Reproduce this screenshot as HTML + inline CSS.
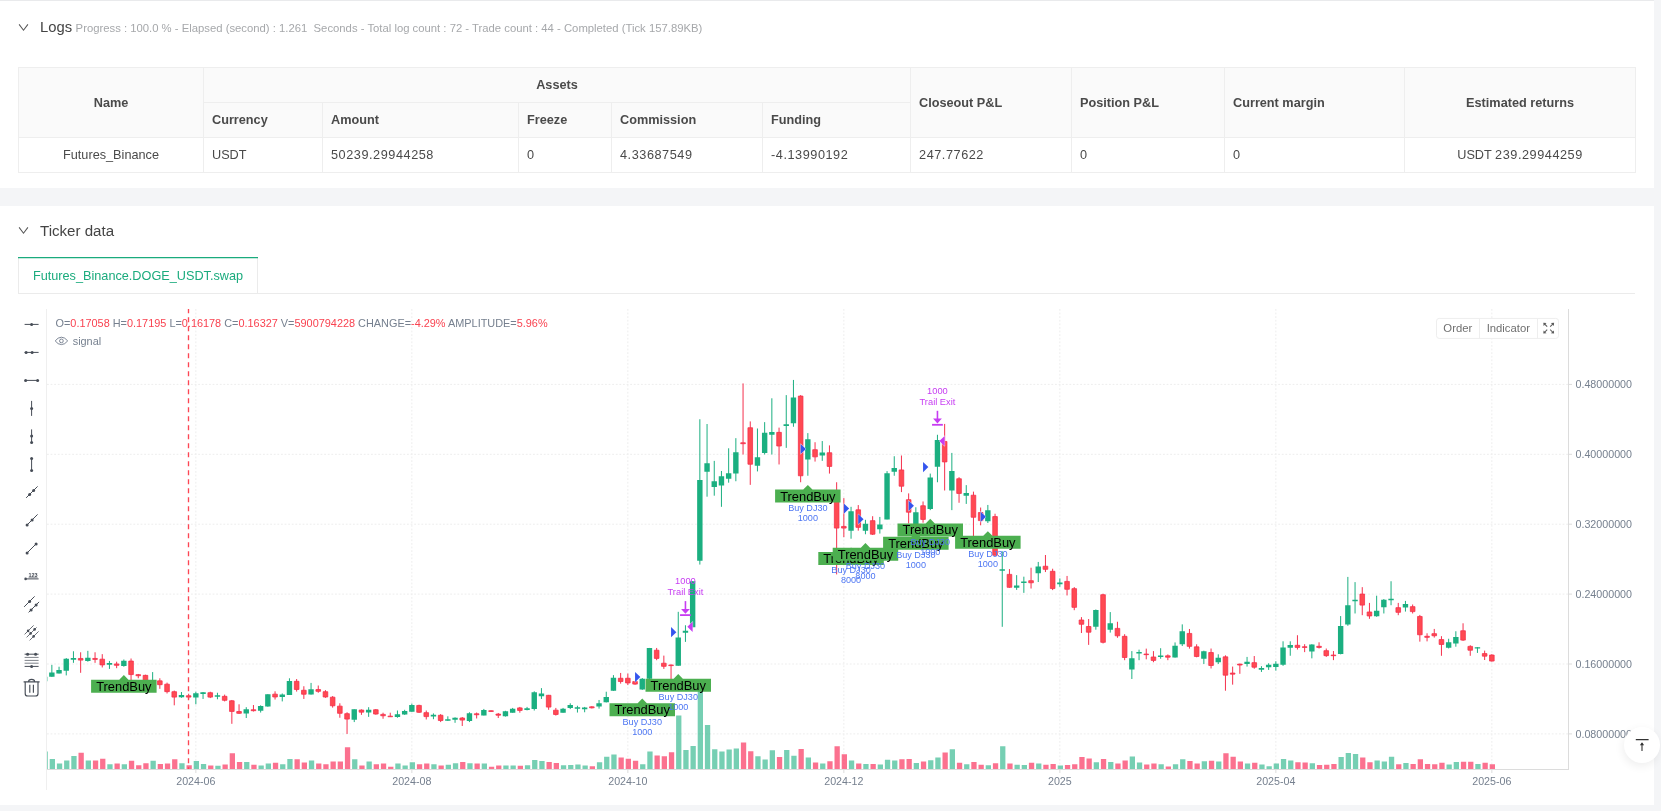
<!DOCTYPE html>
<html><head><meta charset="utf-8"><title>Backtest</title><style>
*{box-sizing:border-box;margin:0;padding:0}
html,body{width:1661px;height:811px;overflow:hidden;background:#f4f5f7;font-family:"Liberation Sans",sans-serif;color:#444}
.card{position:absolute;left:0;width:1654px;background:#fff}
#c1{top:0;height:188px;border-top:1px solid #e9eaec}
#c2{top:206px;height:599px}
.hd{position:absolute;left:40px;font-size:14.8px;color:#444;white-space:nowrap;line-height:20px}
.hd small{font-size:11.3px;color:#a6a8ab;margin-left:3.5px}
.chev{position:absolute;left:18px;width:11px;height:8px}
table{position:absolute;left:18px;top:66px;width:1617px;border-collapse:collapse;font-size:12.7px;color:#4a4a4a;table-layout:fixed}
td,th{border:1px solid #eeeeee;height:35px;padding:0.5px 8px 0 8px;text-align:left;white-space:nowrap;overflow:hidden}
th{background:#fafafa;font-weight:bold;color:#4a4a4a}
.c{text-align:center}
.n{letter-spacing:0.55px}
.tab{position:absolute;left:18px;top:257px;width:240px;height:36px;border-left:1px solid #ebebeb;border-right:1px solid #ebebeb;color:#1aab7d;font-size:12.7px;line-height:39px;text-align:center;background:#fff}
.tabline{position:absolute;left:18px;top:293px;width:1617px;height:1px;background:#ebebeb}
svg text{font-family:"Liberation Sans",sans-serif}
.totop{position:absolute;left:1624px;top:727px;width:36px;height:36px;border-radius:18px;background:#fff;box-shadow:-1px 3px 10px rgba(0,0,0,.07)}
</style></head><body><div id="root" style="position:absolute;left:0;top:0;width:1661px;height:811px;will-change:transform;">
<div class="card" id="c1">
<svg class="chev" style="top:23px" viewBox="0 0 11 8"><path d="M1.1 0.4L5.5 6.2L9.9 0.4" fill="none" stroke="#555" stroke-width="1.05"/></svg>
<div class="hd" style="top:16px">Logs<small>Progress : 100.0 % - Elapsed (second) : 1.261&nbsp; Seconds - Total log count : 72 - Trade count : 44 - Completed (Tick 157.89KB)</small></div>
<table>
<colgroup><col style="width:185px"><col style="width:119px"><col style="width:196px"><col style="width:93px"><col style="width:151px"><col style="width:148px"><col style="width:161px"><col style="width:153px"><col style="width:180px"><col style="width:231px"></colgroup>
<tr><th rowspan="2" class="c">Name</th><th colspan="5" class="c">Assets</th><th rowspan="2">Closeout P&amp;L</th><th rowspan="2">Position P&amp;L</th><th rowspan="2">Current margin</th><th rowspan="2" class="c">Estimated returns</th></tr>
<tr><th>Currency</th><th>Amount</th><th>Freeze</th><th>Commission</th><th>Funding</th></tr>
<tr><td class="c">Futures_Binance</td><td>USDT</td><td class="n">50239.29944258</td><td>0</td><td class="n">4.33687549</td><td class="n">-4.13990192</td><td class="n">247.77622</td><td>0</td><td>0</td><td class="c">USDT <span class="n">239.29944259</span></td></tr>
</table>
</div>
<div class="card" id="c2"></div>
<svg class="chev" style="top:227px" viewBox="0 0 11 8"><path d="M1.1 0.4L5.5 6.2L9.9 0.4" fill="none" stroke="#555" stroke-width="1.05"/></svg>
<div class="hd" style="top:221px;font-size:15.1px">Ticker data</div>
<div class="tabline"></div>
<div class="tab">Futures_Binance.DOGE_USDT.swap</div>
<svg style="position:absolute;left:0;top:0" width="1661" height="811" viewBox="0 0 1661 811">
<path d="M47 384.4H1568 M47 454.3H1568 M47 524.2H1568 M47 594.1H1568 M47 664H1568 M47 733.9H1568 M195.85 309V769.5 M411.85 309V769.5 M627.85 309V769.5 M843.85 309V769.5 M1059.85 309V769.5 M1275.85 309V769.5 M1491.85 309V769.5" stroke="#ededed" stroke-width="1" stroke-dasharray="1.8 1.8" fill="none"/>
<defs><clipPath id="cp"><rect x="47" y="309" width="1521" height="461"/></clipPath></defs>
<g clip-path="url(#cp)">
<path d="M42.5 769.5v-18h5.3v18zM49.7 769.5v-10.4h5.3v10.4zM56.9 769.5v-6.1h5.3v6.1zM64.1 769.5v-9.1h5.3v9.1zM71.3 769.5v-13.4h5.3v13.4zM85.7 769.5v-8.9h5.3v8.9zM107.3 769.5v-5.2h5.3v5.2zM121.7 769.5v-5.2h5.3v5.2zM150.5 769.5v-8.7h5.3v8.7zM179.3 769.5v-6.3h5.3v6.3zM193.7 769.5v-8.5h5.3v8.5zM200.9 769.5v-5.4h5.3v5.4zM215.3 769.5v-3.7h5.3v3.7zM244.1 769.5v-7.6h5.3v7.6zM258.5 769.5v-3.9h5.3v3.9zM265.7 769.5v-5.9h5.3v5.9zM280.1 769.5v-5.2h5.3v5.2zM287.3 769.5v-10.4h5.3v10.4zM308.9 769.5v-8.9h5.3v8.9zM352.1 769.5v-10.2h5.3v10.2zM366.5 769.5v-8h5.3v8zM395.3 769.5v-6.1h5.3v6.1zM402.5 769.5v-4.1h5.3v4.1zM409.7 769.5v-7.2h5.3v7.2zM431.3 769.5v-5.2h5.3v5.2zM445.7 769.5v-4.8h5.3v4.8zM452.9 769.5v-6.3h5.3v6.3zM467.3 769.5v-6.3h5.3v6.3zM481.7 769.5v-6.1h5.3v6.1zM503.3 769.5v-4.1h5.3v4.1zM510.5 769.5v-4.1h5.3v4.1zM524.9 769.5v-4.3h5.3v4.3zM532.1 769.5v-9.5h5.3v9.5zM539.3 769.5v-8.5h5.3v8.5zM560.9 769.5v-4.3h5.3v4.3zM568.1 769.5v-4.6h5.3v4.6zM575.3 769.5v-5h5.3v5zM582.5 769.5v-4.1h5.3v4.1zM596.9 769.5v-7.2h5.3v7.2zM604.1 769.5v-12.8h5.3v12.8zM611.3 769.5v-15h5.3v15zM640.1 769.5v-5.2h5.3v5.2zM647.3 769.5v-18h5.3v18zM676.1 769.5v-53.9h5.3v53.9zM683.3 769.5v-19.5h5.3v19.5zM690.5 769.5v-23.4h5.3v23.4zM697.7 769.5v-80h5.3v80zM704.9 769.5v-44.4h5.3v44.4zM712.1 769.5v-20.2h5.3v20.2zM719.3 769.5v-18h5.3v18zM726.5 769.5v-19.9h5.3v19.9zM733.7 769.5v-21h5.3v21zM755.3 769.5v-13.2h5.3v13.2zM762.5 769.5v-10h5.3v10zM769.7 769.5v-19.3h5.3v19.3zM784.1 769.5v-19.5h5.3v19.5zM791.3 769.5v-13.7h5.3v13.7zM805.7 769.5v-12.1h5.3v12.1zM820.1 769.5v-6.1h5.3v6.1zM848.9 769.5v-9.1h5.3v9.1zM863.3 769.5v-5.4h5.3v5.4zM877.7 769.5v-5h5.3v5zM884.9 769.5v-9.8h5.3v9.8zM892.1 769.5v-9.1h5.3v9.1zM913.7 769.5v-6.5h5.3v6.5zM928.1 769.5v-9.3h5.3v9.3zM935.3 769.5v-12.1h5.3v12.1zM949.7 769.5v-20.2h5.3v20.2zM964.1 769.5v-5.2h5.3v5.2zM985.7 769.5v-4.3h5.3v4.3zM1000.1 769.5v-23.2h5.3v23.2zM1014.5 769.5v-4.8h5.3v4.8zM1021.7 769.5v-4.6h5.3v4.6zM1036.1 769.5v-6.1h5.3v6.1zM1057.7 769.5v-4.1h5.3v4.1zM1093.7 769.5v-7.2h5.3v7.2zM1108.1 769.5v-7.4h5.3v7.4zM1129.7 769.5v-13h5.3v13zM1136.9 769.5v-6.9h5.3v6.9zM1158.5 769.5v-5.2h5.3v5.2zM1172.9 769.5v-5.2h5.3v5.2zM1180.1 769.5v-10.2h5.3v10.2zM1201.7 769.5v-8.2h5.3v8.2zM1216.1 769.5v-8h5.3v8zM1244.9 769.5v-5.9h5.3v5.9zM1259.3 769.5v-5h5.3v5zM1266.5 769.5v-3.3h5.3v3.3zM1273.7 769.5v-6.1h5.3v6.1zM1280.9 769.5v-10.4h5.3v10.4zM1288.1 769.5v-9.1h5.3v9.1zM1309.7 769.5v-6.3h5.3v6.3zM1338.5 769.5v-12.6h5.3v12.6zM1345.7 769.5v-16.5h5.3v16.5zM1352.9 769.5v-15.4h5.3v15.4zM1374.5 769.5v-8.9h5.3v8.9zM1381.7 769.5v-8h5.3v8zM1388.9 769.5v-12.7h5.3v12.7zM1403.3 769.5v-6.5h5.3v6.5zM1446.5 769.5v-5h5.3v5zM1453.7 769.5v-7.4h5.3v7.4zM1475.3 769.5v-5.6h5.3v5.6z" fill="#1baf80" fill-opacity=".6"/>
<path d="M78.5 769.5v-16.7h5.3v16.7zM92.9 769.5v-9.1h5.3v9.1zM100.1 769.5v-10.8h5.3v10.8zM114.5 769.5v-5.9h5.3v5.9zM128.9 769.5v-8.7h5.3v8.7zM136.1 769.5v-4.3h5.3v4.3zM143.3 769.5v-6.3h5.3v6.3zM157.7 769.5v-5.6h5.3v5.6zM164.9 769.5v-6.1h5.3v6.1zM172.1 769.5v-10.2h5.3v10.2zM186.5 769.5v-4.3h5.3v4.3zM208.1 769.5v-4.1h5.3v4.1zM222.5 769.5v-5h5.3v5zM229.7 769.5v-16.3h5.3v16.3zM236.9 769.5v-7.4h5.3v7.4zM251.3 769.5v-4.8h5.3v4.8zM272.9 769.5v-6.7h5.3v6.7zM294.5 769.5v-10.2h5.3v10.2zM301.7 769.5v-6.9h5.3v6.9zM316.1 769.5v-5.9h5.3v5.9zM323.3 769.5v-5.2h5.3v5.2zM330.5 769.5v-8h5.3v8zM337.7 769.5v-8h5.3v8zM344.9 769.5v-22.3h5.3v22.3zM359.3 769.5v-4.1h5.3v4.1zM373.7 769.5v-5.2h5.3v5.2zM380.9 769.5v-5.9h5.3v5.9zM388.1 769.5v-2.8h5.3v2.8zM416.9 769.5v-5.2h5.3v5.2zM424.1 769.5v-6.1h5.3v6.1zM438.5 769.5v-4.1h5.3v4.1zM460.1 769.5v-7.4h5.3v7.4zM474.5 769.5v-5.9h5.3v5.9zM488.9 769.5v-2.8h5.3v2.8zM496.1 769.5v-4.1h5.3v4.1zM517.7 769.5v-3.7h5.3v3.7zM546.5 769.5v-7.4h5.3v7.4zM553.7 769.5v-6.5h5.3v6.5zM589.7 769.5v-3.3h5.3v3.3zM618.5 769.5v-11.9h5.3v11.9zM625.7 769.5v-10.8h5.3v10.8zM632.9 769.5v-8.7h5.3v8.7zM654.5 769.5v-14.1h5.3v14.1zM661.7 769.5v-13.2h5.3v13.2zM668.9 769.5v-17.3h5.3v17.3zM740.9 769.5v-27.1h5.3v27.1zM748.1 769.5v-18.2h5.3v18.2zM776.9 769.5v-12.4h5.3v12.4zM798.5 769.5v-20.6h5.3v20.6zM812.9 769.5v-6.9h5.3v6.9zM827.3 769.5v-8.2h5.3v8.2zM834.5 769.5v-23.2h5.3v23.2zM841.7 769.5v-15.2h5.3v15.2zM856.1 769.5v-6.1h5.3v6.1zM870.5 769.5v-5.6h5.3v5.6zM899.3 769.5v-10.2h5.3v10.2zM906.5 769.5v-10.6h5.3v10.6zM920.9 769.5v-8h5.3v8zM942.5 769.5v-17.1h5.3v17.1zM956.9 769.5v-6.7h5.3v6.7zM971.3 769.5v-7.6h5.3v7.6zM978.5 769.5v-4.8h5.3v4.8zM992.9 769.5v-6.3h5.3v6.3zM1007.3 769.5v-5.9h5.3v5.9zM1028.9 769.5v-6.7h5.3v6.7zM1043.3 769.5v-4.8h5.3v4.8zM1050.5 769.5v-5.4h5.3v5.4zM1064.9 769.5v-4.6h5.3v4.6zM1072.1 769.5v-5.2h5.3v5.2zM1079.3 769.5v-12.4h5.3v12.4zM1086.5 769.5v-11.1h5.3v11.1zM1100.9 769.5v-10.6h5.3v10.6zM1115.3 769.5v-6.1h5.3v6.1zM1122.5 769.5v-9.1h5.3v9.1zM1144.1 769.5v-5h5.3v5zM1151.3 769.5v-6.1h5.3v6.1zM1165.7 769.5v-3h5.3v3zM1187.3 769.5v-8.5h5.3v8.5zM1194.5 769.5v-6.1h5.3v6.1zM1208.9 769.5v-8.7h5.3v8.7zM1223.3 769.5v-16.3h5.3v16.3zM1230.5 769.5v-12.8h5.3v12.8zM1237.7 769.5v-8h5.3v8zM1252.1 769.5v-6.7h5.3v6.7zM1295.3 769.5v-7.2h5.3v7.2zM1302.5 769.5v-6.9h5.3v6.9zM1316.9 769.5v-4.6h5.3v4.6zM1324.1 769.5v-4.8h5.3v4.8zM1331.3 769.5v-5.4h5.3v5.4zM1360.1 769.5v-12.1h5.3v12.1zM1367.3 769.5v-7.2h5.3v7.2zM1396.1 769.5v-5.3h5.3v5.3zM1410.5 769.5v-5.6h5.3v5.6zM1417.7 769.5v-10.2h5.3v10.2zM1424.9 769.5v-5.6h5.3v5.6zM1432.1 769.5v-5.3h5.3v5.3zM1439.3 769.5v-6.8h5.3v6.8zM1460.9 769.5v-7.7h5.3v7.7zM1468.1 769.5v-7.7h5.3v7.7zM1482.5 769.5v-6.8h5.3v6.8zM1489.7 769.5v-5.3h5.3v5.3z" fill="#f92855" fill-opacity=".66"/>
<path d="M44.65 676.85V681.18M51.85 664.86V676.85M59.05 666.73V673.53M66.25 658.06V675.4M73.45 651.27V662.83M87.85 650.84V661.68M109.45 660.95V668.9M123.85 659.51V666.73M152.65 672.08V681.91M181.45 692.02V697.8M195.85 691.73V704.31M203.05 692.02V698.96M217.45 692.75V699.25M246.25 707.2V718.03M260.65 705.32V712.54M267.85 694.19V706.76M282.25 693.47V701.42M289.45 678.29V694.91M311.05 682.92V694.62M354.25 709.36V722.08M368.65 707.2V716.88M397.45 710.52V717.75M404.65 709.8V714.86M411.85 703.58V711.82M433.45 713.41V719.19M447.85 716.3V720.92M455.05 717.31V722.8M469.45 712.25V722.08M483.85 708.93V715.43M505.45 710.81V716.59M512.65 707.92V712.69M527.05 706.91V710.38M534.25 691.3V710.52M541.45 688.12V698.96M563.05 707.92V712.69M570.25 703.29V709.08M577.45 705.75V712.54M584.65 706.91V712.25M599.05 699.97V708.64M606.25 691.73V702.43M613.45 675.12V690.87M642.25 678.01V689.86M649.45 647.95V679.02M678.25 611.82V665.72M685.45 625.26V641.88M692.65 581.18V627.14M699.85 419.25V564.57M707.05 424.02V496.7M714.25 460.86V495.69M721.45 470.98V506.82M728.65 448.29V482.68M735.85 438.17V481.24M757.45 428.49V471.41M764.65 422.14V454.5M771.85 398.29V454.5M786.25 395.12V447.86M793.45 379.94V426.76M807.85 433.12V475.75M822.25 441.06V460.86M851.05 506.82V538.73M865.45 519.82V534.27M879.85 516.93V533.55M887.05 471.12V519.39M894.25 456.24V475.75M915.85 507.25V527.77M930.25 473.58V510.14M937.45 434.77V482.25M951.85 452.91V510.14M966.25 485.14V503.92M987.85 504.94V523M1002.25 551.3V626.8M1016.65 575.14V589.88M1023.85 576.68V592.86M1038.25 561.94V582.02M1059.85 578.41V586.79M1095.85 609.48V629.71M1110.25 612.08V632.6M1131.85 651.1V678.99M1139.05 649.65V660.2M1160.65 648.21V658.76M1175.05 642.43V657.6M1182.25 624.36V646.04M1203.85 650.69V663.99M1218.25 654.31V663.99M1247.05 656.91V666.59M1261.45 666.16V671.94M1268.65 663.27V669.91M1275.85 661.24V670.64M1283.05 641.3V665.87M1290.25 641.3V655.75M1311.85 644.19V658.35M1340.65 616.07V654.36M1347.85 576.91V625.75M1355.05 582.11V613.47M1376.65 595.69V616.79M1383.85 599.02V613.47M1391.05 581.24V605.23M1405.45 600.9V611.59M1448.65 638.76V648.44M1455.85 631.24V646.71M1477.45 647.14V652.92" stroke="#1baf80" stroke-width="1" fill="none"/>
<path d="M80.65 652.28V672.8M95.05 652.28V662.83M102.25 654.16V667.46M116.65 661.68V668.18M131.05 658.5V681.18M138.25 673.96V678.29M145.45 674.68V681.91M159.85 678.29V688.84M167.05 682.63V693.47M174.25 690.58V705.32M188.65 693.76V699.25M210.25 691.73V698.09M224.65 694.62V701.42M231.85 699.97V723.82M239.05 704.31V713.99M253.45 705.03V711.53M275.05 691.3V699.54M296.65 679.02V691.59M303.85 686.24V698.96M318.25 685.52V692.75M325.45 690.14V697.8M332.65 696.07V707.63M339.85 703.29V717.75M347.05 712.25V733.93M361.45 709.36V714.86M375.85 709.08V714.71M383.05 712.69V718.76M390.25 712.69V717.02M419.05 704.74V712.98M426.25 710.52V719.48M440.65 714.13V722.08M462.25 717.02V725.98M476.65 712.54V718.47M491.05 710.38V711.82M498.25 712.98V718.03M519.85 706.91V712.69M548.65 694.91V709.8M555.85 707.92V715.58M591.85 706.18V708.5M620.65 672.95V683.64M627.85 673.53V685.09M635.05 680.9V684.8M656.65 647.95V660.23M663.85 655.61V668.9M671.05 664.57V679.02M743.05 383.41V454.5M750.25 421.42V484.85M779.05 427.62V464.47M800.65 395.12V482.25M815.05 442.22V461.58M829.45 445.4V473.58M836.65 482.25V574.42M843.85 498.14V537.16M858.25 505.08V530.66M872.65 516.21V534.99M901.45 455.51V492.08M908.65 493.38V523.43M923.05 501.47V522.71M944.65 423.92V490.49M959.05 477.19V502.77M973.45 491.64V536.13M980.65 507.54V525.31M995.05 513.73V555.64M1009.45 569.08V587.72M1031.05 567.72V588.53M1045.45 555V572.05M1052.65 568.73V590.12M1067.05 575.95V595.46M1074.25 587.08V610.2M1081.45 617.14V633.03M1088.65 619.02V644.88M1103.05 593.73V643.44M1117.45 621.76V637.8M1124.65 634.19V660.2M1146.25 648.64V659.34M1153.45 651.1V662.23M1167.85 654.42V660.2M1189.45 628.99V648.64M1196.65 644.31V657.31M1211.05 648.53V668.47M1225.45 655.32V690.72M1232.65 666.59V684.65M1239.85 663.7V673.82M1254.25 656.04V668.76M1297.45 635.23V649.54M1304.65 644.19V652.14M1319.05 642.31V648.53M1326.25 648.53V656.91M1333.45 651.04V660.14M1362.25 587.17V615.2M1369.45 602.92V618.82M1398.25 602.92V615.2M1412.65 604.51V613.47M1419.85 614.91V641.65M1427.05 633.27V641.36M1434.25 628.93V637.6M1441.45 636.16V655.81M1463.05 623.29V640.92M1470.25 645.26V655.81M1484.65 650.61V660M1491.85 654.22V661.59" stroke="#f5304d" stroke-width="1" fill="none"/>
<path d="M41.95 676.85h5.4v4.34h-5.4zM49.15 672.51h5.4v4.34h-5.4zM56.35 669.91h5.4v3.61h-5.4zM63.55 658.79h5.4v11.85h-5.4zM70.75 658.06h5.4v1.73h-5.4zM85.15 657.77h5.4v3.18h-5.4zM106.75 663.12h5.4v1.73h-5.4zM121.15 660.66h5.4v5.35h-5.4zM149.95 679.88h5.4v1.73h-5.4zM178.75 694.91h5.4v2.46h-5.4zM193.15 693.18h5.4v4.34h-5.4zM200.35 692.31h5.4v1.59h-5.4zM214.75 695.35h5.4v1.45h-5.4zM243.55 709.36h5.4v4.05h-5.4zM257.95 706.04h5.4v4.77h-5.4zM265.15 694.19h5.4v12.28h-5.4zM279.55 694.48h5.4v2.6h-5.4zM286.75 680.9h5.4v14.02h-5.4zM308.35 689.13h5.4v5.49h-5.4zM351.55 709.36h5.4v10.4h-5.4zM365.95 709.65h5.4v2.89h-5.4zM394.75 714.13h5.4v2.89h-5.4zM401.95 711.1h5.4v3.32h-5.4zM409.15 705.03h5.4v6.79h-5.4zM430.75 714.71h5.4v1.88h-5.4zM445.15 719.19h5.4v1.45h-5.4zM452.35 717.75h5.4v2.02h-5.4zM466.75 713.27h5.4v7.66h-5.4zM481.15 710.09h5.4v5.35h-5.4zM502.75 711.24h5.4v4.91h-5.4zM509.95 708.64h5.4v4.05h-5.4zM524.35 708.21h5.4v1.88h-5.4zM531.55 692.31h5.4v16.76h-5.4zM538.75 693.47h5.4v2.89h-5.4zM560.35 708.64h5.4v4.05h-5.4zM567.55 705.03h5.4v2.89h-5.4zM574.75 707.2h5.4v1.45h-5.4zM581.95 707.49h5.4v1.88h-5.4zM596.35 703.15h5.4v3.32h-5.4zM603.55 697.08h5.4v5.06h-5.4zM610.75 677.86h5.4v13.01h-5.4zM639.55 678.73h5.4v10.69h-5.4zM646.75 647.95h5.4v30.78h-5.4zM675.55 637.54h5.4v28.18h-5.4zM682.75 630.75h5.4v2.02h-5.4zM689.95 581.18h5.4v45.95h-5.4zM697.15 480.08h5.4v80.58h-5.4zM704.35 463.17h5.4v8.67h-5.4zM711.55 481.24h5.4v5.78h-5.4zM718.75 476.18h5.4v9.25h-5.4zM725.95 473.14h5.4v5.49h-5.4zM733.15 452.34h5.4v21.24h-5.4zM754.75 457.25h5.4v8.38h-5.4zM761.95 432.83h5.4v20.09h-5.4zM769.15 431.96h5.4v2.89h-5.4zM783.55 424.31h5.4v1.73h-5.4zM790.75 397.57h5.4v25.58h-5.4zM805.15 439.18h5.4v20.38h-5.4zM819.55 452.62h5.4v2.89h-5.4zM848.35 511.15h5.4v19.51h-5.4zM862.75 523.87h5.4v6.79h-5.4zM877.15 524.59h5.4v4.62h-5.4zM884.35 473.14h5.4v46.24h-5.4zM891.55 468.09h5.4v3.61h-5.4zM913.15 512.16h5.4v14.88h-5.4zM927.55 477.62h5.4v31.36h-5.4zM934.75 440.05h5.4v26.73h-5.4zM949.15 471.12h5.4v19.36h-5.4zM963.55 493.09h5.4v2.6h-5.4zM985.15 510.14h5.4v11.13h-5.4zM999.55 569.36h5.4v1.45h-5.4zM1013.95 585.55h5.4v2.17h-5.4zM1021.15 581.45h5.4v1.45h-5.4zM1035.55 566.56h5.4v6.79h-5.4zM1057.15 582.46h5.4v1.73h-5.4zM1093.15 609.91h5.4v16.91h-5.4zM1107.55 623.21h5.4v6.65h-5.4zM1129.15 658.32h5.4v11.27h-5.4zM1136.35 652.11h5.4v1.45h-5.4zM1157.95 655.43h5.4v1.45h-5.4zM1172.35 645.75h5.4v11.85h-5.4zM1179.55 631.3h5.4v12.86h-5.4zM1201.15 651.13h5.4v7.51h-5.4zM1215.55 657.63h5.4v4.62h-5.4zM1244.35 661.82h5.4v2.17h-5.4zM1258.75 668.03h5.4v1.73h-5.4zM1265.95 664.86h5.4v2.46h-5.4zM1273.15 663.7h5.4v3.18h-5.4zM1280.35 647.51h5.4v17.34h-5.4zM1287.55 644.91h5.4v2.89h-5.4zM1309.15 644.62h5.4v6.79h-5.4zM1337.95 626.04h5.4v27.89h-5.4zM1345.15 605.23h5.4v19.36h-5.4zM1352.35 599.74h5.4v1.45h-5.4zM1373.95 610.87h5.4v5.49h-5.4zM1381.15 599.74h5.4v7.51h-5.4zM1388.35 598.73h5.4v1.45h-5.4zM1402.75 604.08h5.4v3.32h-5.4zM1445.95 642.37h5.4v5.35h-5.4zM1453.15 637.02h5.4v6.36h-5.4zM1474.75 647.14h5.4v1.45h-5.4z" fill="#1baf80"/>
<path d="M78.35 658.46h4.6v1.66h-4.6zM92.75 658.46h4.6v0.93h-4.6zM99.95 659.19h4.6v5.7h-4.6zM114.35 663.95h4.6v1.37h-4.6zM128.75 661.06h4.6v13.51h-4.6zM135.95 674.65h4.6v1.08h-4.6zM143.15 675.37h4.6v5.41h-4.6zM157.55 680.86h4.6v3.82h-4.6zM164.75 684.19h4.6v7.44h-4.6zM171.95 691.7h4.6v5.41h-4.6zM186.35 695.75h4.6v1.37h-4.6zM207.95 692.71h4.6v4.4h-4.6zM222.35 696.32h4.6v3.97h-4.6zM229.55 700.8h4.6v10.62h-4.6zM236.75 711.5h4.6v1.8h-4.6zM251.15 709.76h4.6v0.93h-4.6zM272.75 694.16h4.6v2.81h-4.6zM294.35 681.3h4.6v8.16h-4.6zM301.55 690.26h4.6v3.97h-4.6zM315.95 689.53h4.6v1.8h-4.6zM323.15 691.7h4.6v5.27h-4.6zM330.35 697.19h4.6v8.59h-4.6zM337.55 706.15h4.6v7.15h-4.6zM344.75 713.67h4.6v5.41h-4.6zM359.15 710.05h4.6v2.09h-4.6zM373.55 709.76h4.6v4.26h-4.6zM380.75 714.39h4.6v1.37h-4.6zM387.95 716.15h4.6v0.6h-4.6zM416.75 705.43h4.6v6.86h-4.6zM423.95 712.65h4.6v3.97h-4.6zM438.35 715.26h4.6v5.27h-4.6zM459.95 718h4.6v2.09h-4.6zM474.35 713.81h4.6v0.93h-4.6zM488.75 710.78h4.6v0.65h-4.6zM495.95 714.1h4.6v1.08h-4.6zM517.55 707.89h4.6v2.52h-4.6zM546.35 695.31h4.6v11.77h-4.6zM553.55 710.2h4.6v4.26h-4.6zM589.55 706.87h4.6v0.93h-4.6zM618.35 678.26h4.6v3.25h-4.6zM625.55 678.26h4.6v4.69h-4.6zM632.75 681.58h4.6v2.52h-4.6zM654.35 650.23h4.6v8.16h-4.6zM661.55 663.23h4.6v3.1h-4.6zM668.75 664.97h4.6v0.65h-4.6zM740.75 442.77h4.6v0.93h-4.6zM747.95 427.74h4.6v36.48h-4.6zM776.75 432.36h4.6v13.65h-4.6zM798.35 396.09h4.6v79.69h-4.6zM812.75 449.7h4.6v7.15h-4.6zM827.15 452.74h4.6v13.65h-4.6zM834.35 491.32h4.6v36.77h-4.6zM841.55 526.43h4.6v1.66h-4.6zM855.95 509.82h4.6v17.55h-4.6zM870.35 520.65h4.6v13.51h-4.6zM899.15 469.93h4.6v16.25h-4.6zM906.35 499.7h4.6v12.49h-4.6zM920.75 505.77h4.6v13.65h-4.6zM942.35 441.46h4.6v20.44h-4.6zM956.75 478.75h4.6v14.66h-4.6zM971.15 495.22h4.6v22.03h-4.6zM978.35 512.56h4.6v8.02h-4.6zM992.75 516.58h4.6v38.65h-4.6zM1007.15 574.39h4.6v12.93h-4.6zM1028.75 580.69h4.6v2.09h-4.6zM1043.15 566.24h4.6v3.1h-4.6zM1050.35 571.3h4.6v17.26h-4.6zM1064.75 581.41h4.6v7.87h-4.6zM1071.95 588.64h4.6v18.71h-4.6zM1079.15 620h4.6v4.26h-4.6zM1086.35 626.5h4.6v5.7h-4.6zM1100.75 594.71h4.6v47.61h-4.6zM1115.15 628.38h4.6v7.44h-4.6zM1122.35 636.32h4.6v21.17h-4.6zM1143.95 654.05h4.6v0.6h-4.6zM1151.15 656.99h4.6v3.39h-4.6zM1165.55 655.83h4.6v1.37h-4.6zM1187.15 633.43h4.6v12.93h-4.6zM1194.35 646.87h4.6v9.6h-4.6zM1208.75 652.54h4.6v12.93h-4.6zM1223.15 656.87h4.6v18.28h-4.6zM1230.35 673.06h4.6v1.08h-4.6zM1237.55 664.1h4.6v0.93h-4.6zM1251.95 662.65h4.6v4.55h-4.6zM1295.15 645.31h4.6v2.09h-4.6zM1302.35 646.76h4.6v0.65h-4.6zM1316.75 646.32h4.6v1.08h-4.6zM1323.95 650.66h4.6v4.98h-4.6zM1331.15 655.05h4.6v0.65h-4.6zM1359.95 594.07h4.6v11.05h-4.6zM1367.15 611.99h4.6v3.97h-4.6zM1395.95 607.65h4.6v4.69h-4.6zM1410.35 606.64h4.6v4.98h-4.6zM1417.55 616.47h4.6v18.28h-4.6zM1424.75 636.27h4.6v1.08h-4.6zM1431.95 633.67h4.6v2.09h-4.6zM1439.15 639.59h4.6v4.84h-4.6zM1460.75 630.78h4.6v9.32h-4.6zM1467.95 646.38h4.6v3.82h-4.6zM1482.35 653.61h4.6v2.52h-4.6zM1489.55 655.05h4.6v5.99h-4.6z" fill="#ff4a52" stroke="#f5304d" stroke-width="0.8" stroke-linejoin="round"/>
</g>
<path d="M188.5 308.2V769.5" stroke="#fd4654" stroke-width="1.35" stroke-dasharray="5 4" fill="none" clip-path="url(#cp)"/>
<path d="M635.05 672L640.35 677.1L635.05 682.2Z" fill="#3455ee" stroke="#fff" stroke-opacity=".75" stroke-width="0.9" paint-order="stroke"/>
<path d="M671.05 627.1L676.35 632.2L671.05 637.3Z" fill="#3455ee" stroke="#fff" stroke-opacity=".75" stroke-width="0.9" paint-order="stroke"/>
<path d="M800.65 443.9L805.95 449L800.65 454.1Z" fill="#3455ee" stroke="#fff" stroke-opacity=".75" stroke-width="0.9" paint-order="stroke"/>
<path d="M843.85 503.5L849.15 508.6L843.85 513.7Z" fill="#3455ee" stroke="#fff" stroke-opacity=".75" stroke-width="0.9" paint-order="stroke"/>
<path d="M858.25 514.1L863.55 519.2L858.25 524.3Z" fill="#3455ee" stroke="#fff" stroke-opacity=".75" stroke-width="0.9" paint-order="stroke"/>
<path d="M923.05 462L928.35 467.1L923.05 472.2Z" fill="#3455ee" stroke="#fff" stroke-opacity=".75" stroke-width="0.9" paint-order="stroke"/>
<path d="M908.65 500.7L913.95 505.8L908.65 510.9Z" fill="#3455ee" stroke="#fff" stroke-opacity=".75" stroke-width="0.9" paint-order="stroke"/>
<path d="M980.65 511.7L985.95 516.8L980.65 521.9Z" fill="#3455ee" stroke="#fff" stroke-opacity=".75" stroke-width="0.9" paint-order="stroke"/>
<path d="M692.65 621.7L687.35 626.8L692.65 631.9Z" fill="#c73cf2" stroke="#fff" stroke-opacity=".75" stroke-width="0.9" paint-order="stroke"/>
<path d="M944.65 435.9L939.35 441L944.65 446.1Z" fill="#c73cf2" stroke="#fff" stroke-opacity=".75" stroke-width="0.9" paint-order="stroke"/>
<path d="M680.05 615.1H690.85" stroke="#c73cf2" stroke-width="1.8" fill="none"/>
<path d="M685.45 601.1V611.1" stroke="#c73cf2" stroke-width="1.6" fill="none"/>
<path d="M681.05 608.9L685.45 613.8L689.85 608.9Z" fill="#c73cf2"/>
<text x="685.45" y="584.2" font-size="9.3" fill="#c73cf2" text-anchor="middle">1000</text>
<text x="685.45" y="595" font-size="9.3" fill="#c73cf2" text-anchor="middle">Trail Exit</text>
<path d="M932.05 424.8H942.85" stroke="#c73cf2" stroke-width="1.8" fill="none"/>
<path d="M937.45 410.8V420.8" stroke="#c73cf2" stroke-width="1.6" fill="none"/>
<path d="M933.05 418.6L937.45 423.5L941.85 418.6Z" fill="#c73cf2"/>
<text x="937.45" y="393.9" font-size="9.3" fill="#c73cf2" text-anchor="middle">1000</text>
<text x="937.45" y="404.7" font-size="9.3" fill="#c73cf2" text-anchor="middle">Trail Exit</text>
<path d="M91.1 679.7H119.25L123.85 675.1L128.45 679.7H156.6V692.7H91.1Z" fill="#4caf50"/>
<text x="123.85" y="690.7" font-size="12.9" fill="#000" text-anchor="middle">TrendBuy</text>
<path d="M609.5 703.2H637.65L642.25 698.6L646.85 703.2H675V716.2H609.5Z" fill="#4caf50"/>
<text x="642.25" y="714.2" font-size="12.9" fill="#000" text-anchor="middle">TrendBuy</text>
<text x="642.25" y="724.6" font-size="9.1" fill="#4d76f3" text-anchor="middle">Buy DJ30</text>
<text x="642.25" y="734.5" font-size="9.1" fill="#4d76f3" text-anchor="middle">1000</text>
<path d="M645.5 678.7H673.65L678.25 674.1L682.85 678.7H711V691.7H645.5Z" fill="#4caf50"/>
<text x="678.25" y="689.7" font-size="12.9" fill="#000" text-anchor="middle">TrendBuy</text>
<text x="678.25" y="700.1" font-size="9.1" fill="#4d76f3" text-anchor="middle">Buy DJ30</text>
<text x="678.25" y="710" font-size="9.1" fill="#4d76f3" text-anchor="middle">1000</text>
<path d="M775.1 489.5H803.25L807.85 484.9L812.45 489.5H840.6V502.5H775.1Z" fill="#4caf50"/>
<text x="807.85" y="500.5" font-size="12.9" fill="#000" text-anchor="middle">TrendBuy</text>
<text x="807.85" y="510.9" font-size="9.1" fill="#4d76f3" text-anchor="middle">Buy DJ30</text>
<text x="807.85" y="520.8" font-size="9.1" fill="#4d76f3" text-anchor="middle">1000</text>
<path d="M818.3 552H846.45L851.05 547.4L855.65 552H883.8V565H818.3Z" fill="#4caf50"/>
<text x="851.05" y="563" font-size="12.9" fill="#000" text-anchor="middle">TrendBuy</text>
<text x="851.05" y="573.4" font-size="9.1" fill="#4d76f3" text-anchor="middle">Buy DJ30</text>
<text x="851.05" y="583.3" font-size="9.1" fill="#4d76f3" text-anchor="middle">8000</text>
<path d="M832.7 547.7H860.85L865.45 543.1L870.05 547.7H898.2V560.7H832.7Z" fill="#4caf50"/>
<text x="865.45" y="558.7" font-size="12.9" fill="#000" text-anchor="middle">TrendBuy</text>
<text x="865.45" y="569.1" font-size="9.1" fill="#4d76f3" text-anchor="middle">Buy DJ30</text>
<text x="865.45" y="579" font-size="9.1" fill="#4d76f3" text-anchor="middle">8000</text>
<path d="M883.1 536.8H911.25L915.85 532.2L920.45 536.8H948.6V549.8H883.1Z" fill="#4caf50"/>
<text x="915.85" y="547.8" font-size="12.9" fill="#000" text-anchor="middle">TrendBuy</text>
<text x="915.85" y="558.2" font-size="9.1" fill="#4d76f3" text-anchor="middle">Buy DJ30</text>
<text x="915.85" y="568.1" font-size="9.1" fill="#4d76f3" text-anchor="middle">1000</text>
<path d="M897.5 523.4H925.65L930.25 518.8L934.85 523.4H963V536.4H897.5Z" fill="#4caf50"/>
<text x="930.25" y="534.4" font-size="12.9" fill="#000" text-anchor="middle">TrendBuy</text>
<text x="930.25" y="544.8" font-size="9.1" fill="#4d76f3" text-anchor="middle">Buy DJ30</text>
<text x="930.25" y="554.7" font-size="9.1" fill="#4d76f3" text-anchor="middle">1000</text>
<path d="M955.1 535.8H983.25L987.85 531.2L992.45 535.8H1020.6V548.8H955.1Z" fill="#4caf50"/>
<text x="987.85" y="546.8" font-size="12.9" fill="#000" text-anchor="middle">TrendBuy</text>
<text x="987.85" y="557.2" font-size="9.1" fill="#4d76f3" text-anchor="middle">Buy DJ30</text>
<text x="987.85" y="567.1" font-size="9.1" fill="#4d76f3" text-anchor="middle">1000</text>
<path d="M46.5 309V790" stroke="#efefef" stroke-width="1" fill="none"/>
<path d="M1568.5 309V770M47 769.5H1568.5" stroke="#dcdcdc" stroke-width="1" fill="none"/>
<path d="M1568.5 384.4h3.5 M1568.5 454.3h3.5 M1568.5 524.2h3.5 M1568.5 594.1h3.5 M1568.5 664h3.5 M1568.5 733.9h3.5 M195.85 769.5v3.5 M411.85 769.5v3.5 M627.85 769.5v3.5 M843.85 769.5v3.5 M1059.85 769.5v3.5 M1275.85 769.5v3.5 M1491.85 769.5v3.5" stroke="#dcdcdc" stroke-width="1" fill="none"/>
<g font-size="10.7" fill="#76808f">
<text x="1575.5" y="388.2">0.48000000</text>
<text x="1575.5" y="458.1">0.40000000</text>
<text x="1575.5" y="528">0.32000000</text>
<text x="1575.5" y="597.9">0.24000000</text>
<text x="1575.5" y="667.8">0.16000000</text>
<text x="1575.5" y="737.7">0.08000000</text>
<text x="195.85" y="785" text-anchor="middle">2024-06</text>
<text x="411.85" y="785" text-anchor="middle">2024-08</text>
<text x="627.85" y="785" text-anchor="middle">2024-10</text>
<text x="843.85" y="785" text-anchor="middle">2024-12</text>
<text x="1059.85" y="785" text-anchor="middle">2025</text>
<text x="1275.85" y="785" text-anchor="middle">2025-04</text>
<text x="1491.85" y="785" text-anchor="middle">2025-06</text>
</g>
<path d="M18 257.6H258" stroke="#1aab7d" stroke-width="1.25" fill="none"/>
<text x="55.5" y="327" font-size="10.9" fill="#76808f" style="white-space:pre">O=<tspan fill="#f94250">0.17058</tspan> H=<tspan fill="#f94250">0.17195</tspan> L=<tspan fill="#f94250">0.16178</tspan> C=<tspan fill="#f94250">0.16327</tspan> V=<tspan fill="#f94250">5900794228</tspan> CHANGE=<tspan fill="#f94250">-4.29%</tspan> AMPLITUDE=<tspan fill="#f94250">5.96%</tspan></text>
<g fill="none" stroke="#76808f" stroke-width="0.95"><path d="M55.2 340.9Q58 337.2 61.4 337.2Q64.8 337.2 67.7 340.9Q64.8 344.6 61.4 344.6Q58 344.6 55.2 340.9Z"/><circle cx="61.4" cy="340.9" r="1.85"/></g>
<text x="72.7" y="344.7" font-size="10.9" fill="#76808f">signal</text>
<rect x="1436.5" y="318.4" width="122" height="20" rx="2.7" fill="#fff" stroke="#eeeeee"/>
<path d="M1479.5 318.4v20M1537.5 318.4v20" stroke="#eeeeee"/>
<text x="1457.8" y="332.4" font-size="11.3" fill="#707070" text-anchor="middle">Order</text>
<text x="1508.3" y="332.4" font-size="11.3" fill="#707070" text-anchor="middle">Indicator</text>
<path d="M1547.2 326.7L1544.4 323.9" stroke="#5a5a5a" stroke-width="1.05" fill="none"/>
<path d="M1543.3 322.8L1546.5 323.1L1543.6 326Z" fill="#5a5a5a"/>
<path d="M1550.2 326.7L1553 323.9" stroke="#5a5a5a" stroke-width="1.05" fill="none"/>
<path d="M1554.1 322.8L1550.9 323.1L1553.8 326Z" fill="#5a5a5a"/>
<path d="M1547.2 329.7L1544.4 332.5" stroke="#5a5a5a" stroke-width="1.05" fill="none"/>
<path d="M1543.3 333.6L1546.5 333.3L1543.6 330.4Z" fill="#5a5a5a"/>
<path d="M1550.2 329.7L1553 332.5" stroke="#5a5a5a" stroke-width="1.05" fill="none"/>
<path d="M1554.1 333.6L1550.9 333.3L1553.8 330.4Z" fill="#5a5a5a"/>
<path d="M24.6 324.4L38.6 324.4" stroke="#474d57" stroke-width="1" fill="none"/>
<circle cx="31.6" cy="324.4" r="1.5" fill="#474d57"/>
<path d="M24.6 352.4L38.6 352.4" stroke="#474d57" stroke-width="1" fill="none"/>
<circle cx="26.1" cy="352.4" r="1.5" fill="#474d57"/>
<circle cx="32.1" cy="352.4" r="1.5" fill="#474d57"/>
<path d="M25.6 380.4L37.6 380.4" stroke="#474d57" stroke-width="1" fill="none"/>
<circle cx="25.6" cy="380.4" r="1.5" fill="#474d57"/>
<circle cx="37.6" cy="380.4" r="1.5" fill="#474d57"/>
<path d="M31.6 400.9L31.6 415.9" stroke="#474d57" stroke-width="1" fill="none"/>
<circle cx="31.6" cy="408.4" r="1.5" fill="#474d57"/>
<path d="M31.6 429.4L31.6 442.4" stroke="#474d57" stroke-width="1" fill="none"/>
<circle cx="31.6" cy="435.9" r="1.5" fill="#474d57"/>
<circle cx="31.6" cy="442.4" r="1.5" fill="#474d57"/>
<path d="M31.6 458.4L31.6 470.4" stroke="#474d57" stroke-width="1" fill="none"/>
<circle cx="31.6" cy="458.4" r="1.5" fill="#474d57"/>
<circle cx="31.6" cy="470.4" r="1.5" fill="#474d57"/>
<path d="M26.1 497.9L37.6 486.4" stroke="#474d57" stroke-width="1" fill="none"/>
<circle cx="29.6" cy="494.4" r="1.5" fill="#474d57"/>
<circle cx="33.6" cy="490.4" r="1.5" fill="#474d57"/>
<path d="M26.6 525.4L37.6 514.4" stroke="#474d57" stroke-width="1" fill="none"/>
<circle cx="27.1" cy="524.9" r="1.5" fill="#474d57"/>
<circle cx="32.1" cy="519.9" r="1.5" fill="#474d57"/>
<path d="M27.1 552.9L36.1 543.9" stroke="#474d57" stroke-width="1" fill="none"/>
<circle cx="27.1" cy="552.9" r="1.5" fill="#474d57"/>
<circle cx="36.1" cy="543.9" r="1.5" fill="#474d57"/>
<path d="M25.6 578.9L38.6 578.9" stroke="#474d57" stroke-width="1" fill="none"/>
<circle cx="25.6" cy="578.9" r="1.3" fill="#474d57"/>
<text x="33.1" y="577" font-size="5.5" font-weight="bold" fill="#474d57" text-anchor="middle">123</text>
<path d="M28.6 577.6L37.6 577.6" stroke="#474d57" stroke-width="0.5" fill="none"/>
<path d="M24.1 606.9L34.6 596.4" stroke="#474d57" stroke-width="1" fill="none"/>
<path d="M28.6 612.4L39.1 601.9" stroke="#474d57" stroke-width="1" fill="none"/>
<circle cx="29.6" cy="601.4" r="1.5" fill="#474d57"/>
<circle cx="31.1" cy="609.9" r="1.5" fill="#474d57"/>
<circle cx="36.1" cy="604.9" r="1.5" fill="#474d57"/>
<path d="M24.6 634.4L33.6 625.4" stroke="#474d57" stroke-width="0.8" fill="none"/>
<path d="M26.6 637.4L36.6 627.4" stroke="#474d57" stroke-width="0.8" fill="none"/>
<path d="M29.6 640.4L38.6 631.4" stroke="#474d57" stroke-width="0.8" fill="none"/>
<circle cx="28.1" cy="630.9" r="1.3" fill="#474d57"/>
<circle cx="30.6" cy="633.4" r="1.3" fill="#474d57"/>
<circle cx="33.6" cy="636.4" r="1.3" fill="#474d57"/>
<circle cx="34.6" cy="629.4" r="1.3" fill="#474d57"/>
<path d="M24.6 654.2L38.6 654.2" stroke="#474d57" stroke-width="1" fill="none"/>
<path d="M24.6 657.4L38.6 657.4" stroke="#474d57" stroke-width="0.7" fill="none"/>
<path d="M24.6 660.4L38.6 660.4" stroke="#474d57" stroke-width="0.7" fill="none"/>
<path d="M24.6 663.2L38.6 663.2" stroke="#474d57" stroke-width="0.7" fill="none"/>
<path d="M24.6 666.4L38.6 666.4" stroke="#474d57" stroke-width="1" fill="none"/>
<circle cx="27.6" cy="654.2" r="1.5" fill="#474d57"/>
<circle cx="35.6" cy="654.2" r="1.5" fill="#474d57"/>
<circle cx="31.6" cy="666.4" r="1.5" fill="#474d57"/>
<g fill="none" stroke="#474d57" stroke-width="1.15"><path d="M23.6 681.8h16M28.6 681.6c0-3 6-3 6 0M25.2 682v11.4q0 2.6 2.6 2.6h7.6q2.6 0 2.6-2.6v-11.4M29.8 684.8v8M33.4 684.8v8"/></g>
</svg>
<div class="totop"><svg width="36" height="36" viewBox="0 0 36 36"><path d="M11.8 12.6H24.6M18 16V24" fill="none" stroke="#333" stroke-width="1.1"/><path d="M15.9 18.3L18 15.2L20.1 18.3Z" fill="#333"/></svg></div>
</div></body></html>
